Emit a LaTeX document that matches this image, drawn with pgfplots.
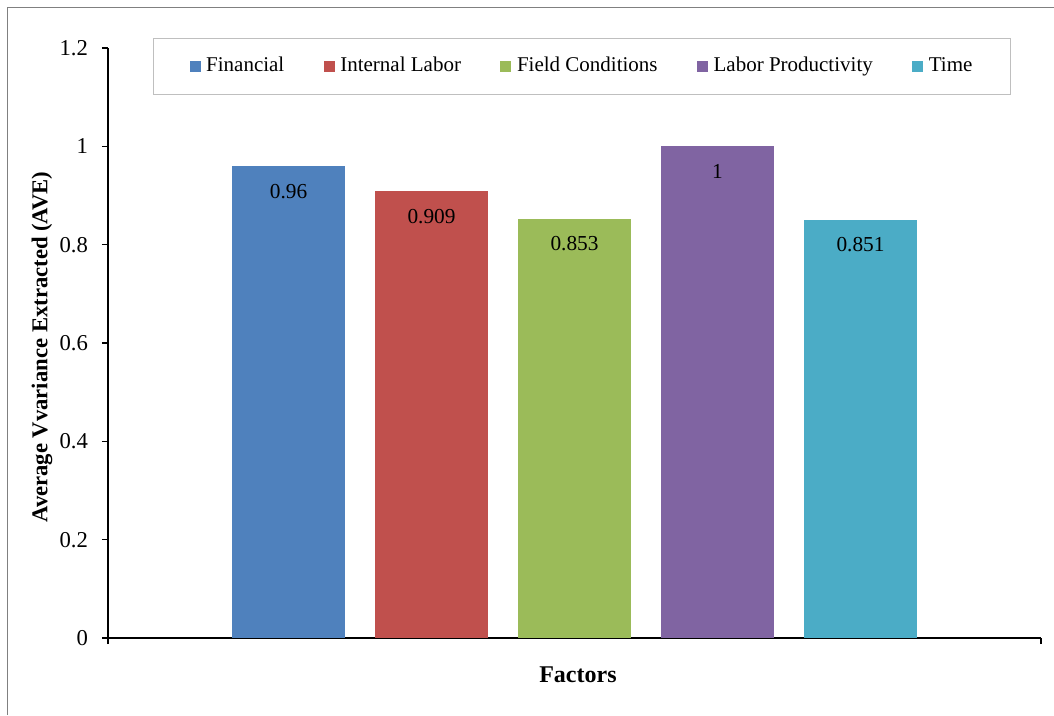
\documentclass[border=0pt]{standalone}
\usepackage{fontspec}
\setmainfont{Liberation Serif}
\usepackage{pgfplots}
\pgfplotsset{compat=1.18}

\definecolor{cFin}{HTML}{4F81BD}
\definecolor{cInt}{HTML}{C0504D}
\definecolor{cField}{HTML}{9BBB59}
\definecolor{cProd}{HTML}{8064A2}
\definecolor{cTime}{HTML}{4BACC6}

\begin{document}
\begin{tikzpicture}
\useasboundingbox (0,0) rectangle (790.5pt,536.25pt);
% outer frame (left and top edges)
\draw[color=black!50, line width=1pt] (5.625pt,0) -- (5.625pt,530.6pt) -- (790.5pt,530.6pt);
\begin{axis}[
  at={(81pt,57.75pt)}, anchor=south west,
  scale only axis,
  width=699.75pt, height=442.5pt,
  ybar=22.5pt, bar width=84.75pt,
  xmin=-1, xmax=1,
  ymin=0, ymax=1.2,
  ytick={0,0.2,0.4,0.6,0.8,1,1.2},
  yticklabels={0,0.2,0.4,0.6,0.8,1,1.2},
  xtick={-1,1}, xticklabels={},
  axis x line*=bottom, axis y line*=left,
  axis line style={line width=1pt, -},
  tick style={line width=1pt, black},
  tick align=outside,
  major tick length=4.5pt,
  yticklabel style={font=\fontsize{17}{20}\selectfont, xshift=-7pt},
  /pgf/number format/assume math mode=true,
  /pgf/number format/precision=3,
  every axis y label/.style={at={(axis description cs:-0.0707,0.493)}, rotate=90, anchor=center},
  every axis x label/.style={at={(axis description cs:0.5037,-0.0627)}, anchor=center},
  ylabel={\fontsize{17}{19}\selectfont\bfseries Average Vvariance Extracted (AVE)},
  xlabel={\fontsize{18}{20}\selectfont\bfseries Factors},
  nodes near coords,
  nodes near coords style={font=\fontsize{16}{18}\selectfont, anchor=center, yshift=-19pt, text=black},
  legend columns=5,
  legend style={
    at={(0.508,0.9686)}, anchor=center,
    draw=black!25, line width=0.8pt,
    font=\fontsize{15.75}{18}\selectfont,
    inner xsep=27pt, inner ysep=15pt,
    nodes={inner sep=1.5pt, text height=0.8em, text depth=0.12em},
    /tikz/every even column/.append style={column sep=28pt},
  },
  legend cell align=left,
  legend image code/.code={\fill[#1] (0pt,-4.1pt) rectangle (8.25pt,4.1pt); \path (11pt,0pt);},
]
\addplot[fill=cFin, draw=none] coordinates {(0,0.96)};
\addplot[fill=cInt, draw=none] coordinates {(0,0.909)};
\addplot[fill=cField, draw=none] coordinates {(0,0.853)};
\addplot[fill=cProd, draw=none] coordinates {(0,1)};
\addplot[fill=cTime, draw=none] coordinates {(0,0.851)};
\legend{Financial, Internal Labor, Field Conditions, Labor Productivity, Time}
\end{axis}
\end{tikzpicture}
\end{document}
